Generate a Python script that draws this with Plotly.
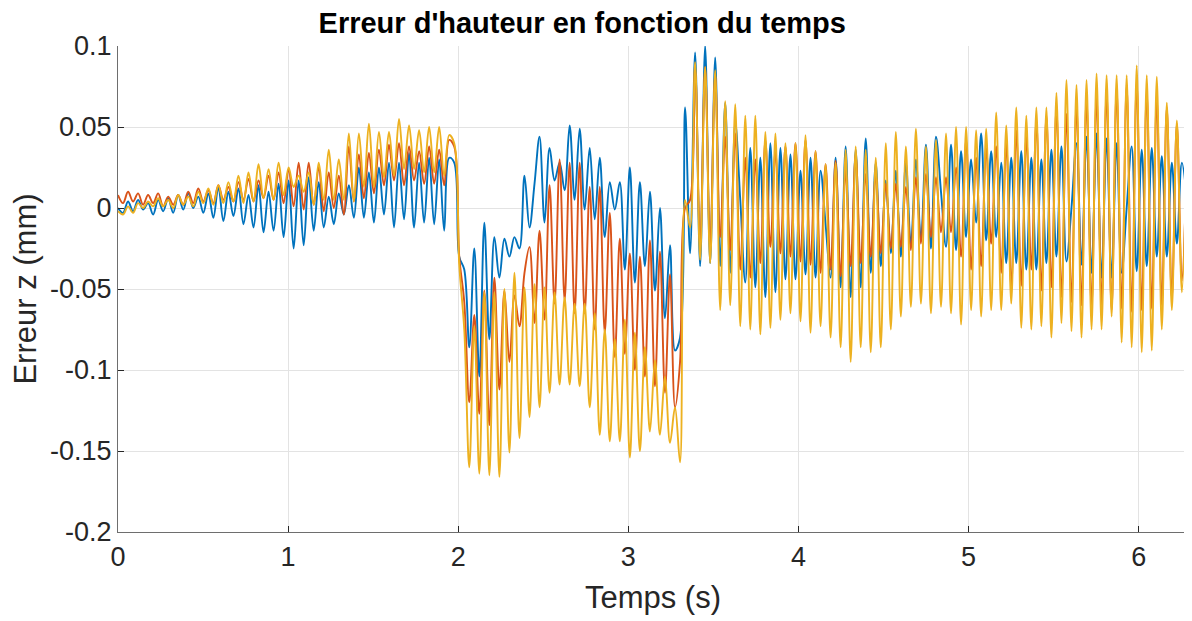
import numpy as np
import plotly.graph_objects as go

# ---------------- data (values in micrometres = 1e-3 mm) ----------------
# samples every half oscillation period
dt = 0.0295  # s

# phase A : 0 .. 1.95 s  (k = 0..66)
blue_a = [0, -3, 4, -2, 5, -1, 3, -4, 5, -2,
          6, -3, 8, -1, 9, 0, 7, -3, 9, -6,
          13, -8, 10, -5, 12, -10, 8, -12, 14, -15,
          10, -14, 15, -18, 17, -25, 17, -23, 19, -14,
          16, -12, 7, -10, 9, -4, 14, -6, 25, -6,
          22, -9, 25, -4, 28, -12, 28, -7, 34, -12,
          28, -9, 31, -10, 30, -14, 31]
orange_a = [8, 3, 10, 4, 9, 2, 8, 3, 9, 1,
            7, 2, 8, 2, 10, 3, 12, 4, 11, 3,
            14, 5, 13, 4, 16, 5, 18, 4, 17, 6,
            20, 5, 22, 3, 24, 1, 28, -1, 28, 2,
            25, -2, 22, 0, 20, -4, 38, 4, 33, 6,
            34, 9, 36, 14, 39, 17, 40, 14, 38, 17,
            35, 15, 38, 15, 36, 14, 42]
yellow_a = [-2, -4, 1, -3, 3, 0, 4, 1, 6, 1,
            5, 0, 8, 2, 7, 1, 10, 3, 12, 2,
            14, 3, 16, 4, 20, 3, 22, 4, 27, 6,
            24, 5, 28, 8, 25, 13, 20, 10, 22, 2,
            28, 5, 36, 5, 30, 5, 46, 4, 46, 13,
            52, 13, 47, 19, 47, 20, 55, 24, 51, 24,
            48, 22, 50, 22, 50, 20, 45]

# drop at ~2 s (k = 67..69)
blue_t = [28, -30, -38]
orange_t = [38, -30, -58]
yellow_t = [40, -35, -75]

# phase B : 2.07 .. 3.30 s (k = 70..112)
blue_b = [-86, -25, -104, -9, -81, -18, -43, -19, -30, -18,
          -25, 20, -12, 15, 44, -9, 37, 17, 28, 11,
          51, 5, 49, -1, 37, -7, 31, -18, 16, -1,
          16, -38, 25, -46, 16, -36, 10, -51, 0, -68,
          -23, -88, -80]
orange_b = [-120, -66, -127, -51, -134, -43, -112, -51, -95, -54,
            -73, -40, -24, -71, -14, -69, 14, -59, 30, -57,
            28, -65, 28, -65, 13, -75, 13, -77, -3, -92,
            -19, -90, -28, -100, -30, -104, -20, -110, -27, -114,
            -41, -123, -95]
yellow_b = [-160, -73, -164, -52, -165, -52, -166, -50, -151, -40,
            -142, -49, -129, -47, -123, -49, -114, -52, -109, -55,
            -109, -59, -110, -59, -123, -65, -140, -75, -144, -81,
            -144, -69, -154, -77, -150, -86, -138, -94, -140, -104,
            -145, -123, -157]

# phase C : 3.33 .. 6.28 s (k = 113..213)
blue_c = [62, -28, 96, -36, 100, -34, 93, -36, 65, -40,
          53, 5, -46, 37, -49, 31, -55, 40, -52, 37,
          -44, 33, -44, 23, -41, 31, -43, 23, -10, -43,
          31, -49, 38, -55, 36, -49, 43, -40, 28, -36,
          17, -28, 23, -30, 28, -23, 30, -20, 39, -25,
          44, 10, -24, 39, -26, 35, -18, 30, -9, 46,
          -20, 35, -18, 28, -34, 31, -34, 35, -38, 31,
          -38, 30, -34, 36, -30, 38, -33, 0, 40, -35,
          44, -40, 46, -43, 43, -43, 40, -40, 0, 38,
          -39, 36, -36, 37, -30, 32, -30, 28, -22, 28,
          5]
orange_c = [0, 5, 87, -24, 87, -24, 83, -18, 44, -26,
            46, -38, 31, -43, 30, -34, 42, -24, 35, -28,
            38, -30, 40, -33, 42, -35, 35, -40, 27, -38,
            29, -42, 23, -36, 33, -34, 21, -30, 21, -28,
            15, -25, 15, -24, 13, -26, 19, -22, 21, -18,
            19, -15, 19, -15, 25, -30, 42, -38, 31, -36,
            37, -22, 38, -40, 40, -49, 48, -48, 44, -38,
            54, -51, 57, -49, 62, -55, 58, -58, 64, -60,
            68, -62, 70, -60, 72, -63, 74, -62, 76, -64,
            78, -63, 72, -62, 68, -60, 62, -56, 52, -45,
            35]
yellow_c = [5, -12, 90, -32, 87, -34, 85, -63, 66, -60,
            64, -73, 57, -75, 57, -78, 47, -74, 46, -69,
            40, -65, 40, -70, 45, -77, 35, -73, 27, -80,
            28, -86, 36, -95, 38, -86, 36, -89, 31, -86,
            40, -75, 47, -67, 38, -61, 49, -59, 38, -65,
            42, -61, 46, -65, 50, -72, 50, -63, 48, -67,
            49, -63, 59, -63, 51, -59, 62, -74, 57, -75,
            62, -73, 62, -80, 71, -71, 79, -76, 76, -80,
            79, -75, 83, -75, 82, -67, 82, -83, 82, -86,
            88, -89, 82, -88, 81, -75, 65, -63, 54, -52,
            43]

x_ticks = [0, 1, 2, 3, 4, 5, 6]
y_ticks = [-0.2, -0.15, -0.1, -0.05, 0, 0.05, 0.1]
y_tick_labels = ["-0.2", "-0.15", "-0.1", "-0.05", "0", "0.05", "0.1"]

blue = blue_a + blue_t + blue_b + blue_c
orange = orange_a + orange_t + orange_b + orange_c
yellow = yellow_a + yellow_t + yellow_b + yellow_c
n = len(blue)
assert len(orange) == n and len(yellow) == n
t = np.arange(n) * dt

FONT = "Liberation Sans, Arial, Helvetica, sans-serif"
colors = ["#0072BD", "#D95319", "#EDB120"]

fig = go.Figure()
for vals, c in zip([blue, orange, yellow], colors):
    fig.add_trace(go.Scatter(
        x=t, y=np.array(vals) * 1e-3, mode="lines",
        line=dict(color=c, width=1.9, shape="spline", smoothing=1.0),
        showlegend=False, hoverinfo="skip"))

# the page body adds an 8 px offset, so the figure is sized to compensate
fig.update_layout(
    width=1184, height=613,
    margin=dict(l=110, r=4, t=38, b=89),
    paper_bgcolor="white", plot_bgcolor="white",
    font=dict(family=FONT, color="#262626"),
    title=dict(text="<b>Erreur d'hauteur en fonction du temps</b>",
               x=0.485, xanchor="center", y=0.992, yanchor="top",
               font=dict(family=FONT, size=29, color="#000000")),
)
fig.update_xaxes(
    range=[0, 6.29], tickvals=x_ticks, ticktext=[str(v) for v in x_ticks],
    showgrid=True, gridcolor="#e3e3e3", gridwidth=1, zeroline=False,
    showline=True, linecolor="#6e6e6e", linewidth=1.2,
    ticks="inside", ticklen=6, tickcolor="#262626",
    tickfont=dict(size=27, color="#262626"),
    title=dict(text="Temps (s)", font=dict(size=31, color="#262626"), standoff=15),
)
fig.update_yaxes(
    range=[-0.2, 0.1], tickvals=y_ticks, ticktext=y_tick_labels,
    showgrid=True, gridcolor="#e3e3e3", gridwidth=1, zeroline=False,
    showline=True, linecolor="#6e6e6e", linewidth=1.2,
    ticks="inside", ticklen=6, tickcolor="#262626",
    tickfont=dict(size=27, color="#262626"),
    title=dict(text="Erreur z (mm)", font=dict(size=31, color="#262626"), standoff=9),
)

fig.write_html("out.html")
